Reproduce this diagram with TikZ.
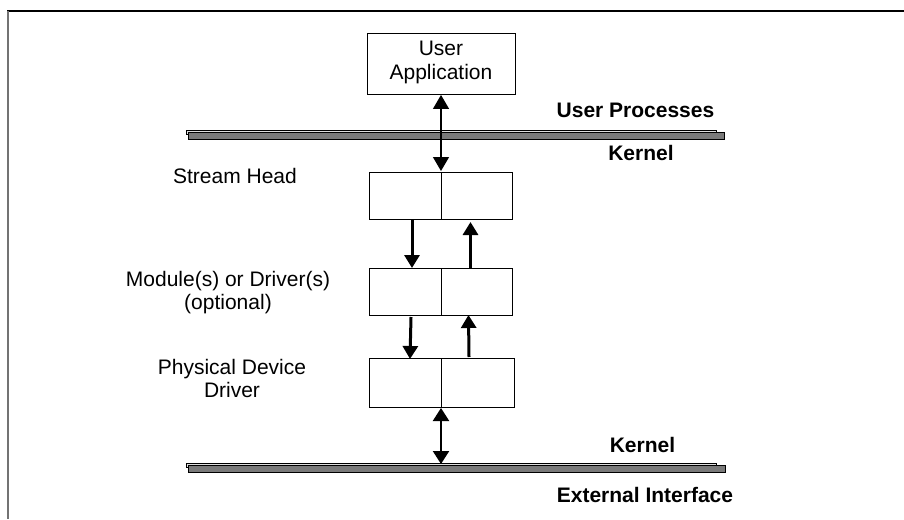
\documentclass[tikz,border=0pt]{standalone}
\usepackage{fontspec}
\setmainfont{Liberation Sans}
\usetikzlibrary{arrows.meta,calc}
\tikzset{
  lbl/.style={font=\fontsize{21}{23}\selectfont, inner sep=0pt, align=center},
  blbl/.style={font=\fontsize{21}{23}\selectfont\bfseries, inner sep=0pt, align=center},
  half/.style={draw=black, line width=0.9pt, minimum height=47pt, anchor=north west, inner sep=0pt, outer sep=0pt},
  lhalf/.style={half, minimum width=72pt},
  rhalf/.style={half, minimum width=71pt},
  thinarr/.style={line width=1.3pt, {Triangle[length=14pt,width=16pt]}-{Triangle[length=14pt,width=16pt]}},
  medarr/.style={line width=2.2pt, {Triangle[length=13pt,width=16pt]}-{Triangle[length=13pt,width=16pt]}},
  thickarr/.style={line width=3pt, -{Triangle[length=13pt,width=15pt]}},
  barlight/.style={draw=black, line width=0.7pt, fill=gray!25},
  bardark/.style={draw=black, line width=0.9pt, fill=black!52},
}
\begin{document}
\begin{tikzpicture}[x=1pt,y=-1pt]
\useasboundingbox (0,0) rectangle (904,519);
% frame
\draw[black, line width=1.3pt] (7,11) -- (904,11);
\draw[black!55, line width=2pt] (8,11) -- (8,519);

% user application
\node[draw=black, line width=0.9pt, minimum width=148pt, minimum height=61pt, inner sep=0pt] (ua) at (441,63.5) {};
\node[lbl, font=\fontsize{21}{24.5}\selectfont] (uatext) at (441,62.5) {User\\Application};

% bars
\draw[barlight] (186,130) rectangle (716,134);
\node[bardark, minimum width=536pt, minimum height=7pt, inner sep=0pt, outer sep=0pt] (bar1) at (456,135.5) {};
\draw[barlight] (186,463) rectangle (716,467);
\node[bardark, minimum width=537pt, minimum height=7pt, inner sep=0pt, outer sep=0pt] (bar2) at (456.5,468.5) {};

% labels
\node[blbl] (up) at (635.5,110.5) {User Processes};
\node[blbl] (k1) at (641,152.5) {Kernel};
\node[blbl] (k2) at (642.5,444.5) {Kernel};
\node[blbl] (ext) at (645,494.5) {External Interface};

\node[lbl] (shlab) at (235,176) {Stream Head};
\node[lbl] (mdlab) at (228,293) {Module(s) or Driver(s)\\(optional)};
\node[lbl] (phlab) at (232,378.5) {Physical Device\\Driver};

% stream boxes
\node[lhalf] (shl) at (369,172) {};
\node[rhalf] (shr) at (shl.north east) {};
\node[lhalf] (mdl) at (369,268) {};
\node[rhalf] (mdr) at (mdl.north east) {};
\node[lhalf, minimum height=49pt] (phl) at (369,358) {};
\node[rhalf, minimum height=49pt, minimum width=73pt] (phr) at (phl.north east) {};

% arrows
\draw[thinarr, shorten <=0.5pt, shorten >=1pt] (ua.south -| shl.north east) -- (shl.north east);
\draw[medarr, shorten <=1pt, shorten >=1pt] (phl.south east) -- (phl.south east |- bar2.north);

\draw[thickarr] ($(shl.south)+(7,0)$) -- ($(mdl.north)+(7,0)$);
\draw[thickarr] ($(mdr.north)+(-6,0)$) -- ($(shr.south)+(-6,3)$);
\draw[thickarr] ($(mdl.south)+(6,2)$) -- ($(phl.north)+(5,1)$);
\draw[thickarr] ($(phr.north)+(-8.5,-1)$) -- ($(mdr.south)+(-8,0)$);
\end{tikzpicture}
\end{document}
